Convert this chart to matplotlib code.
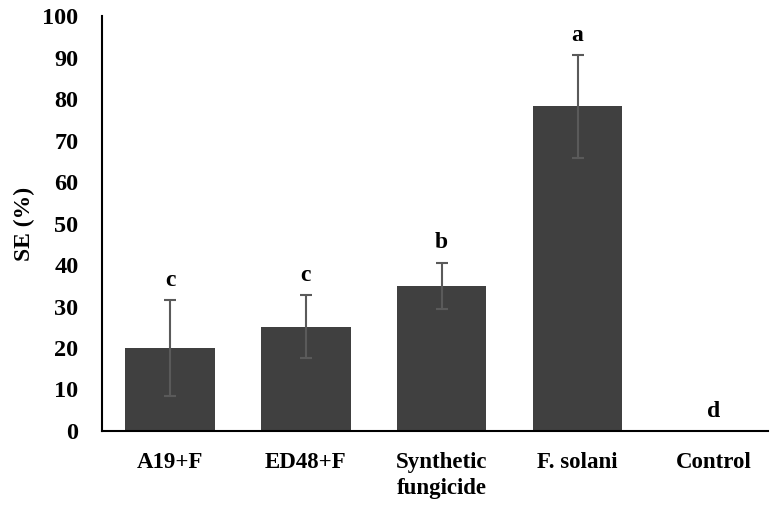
import matplotlib.pyplot as plt
import numpy as np

categories = ["A19+F", "ED48+F", "Synthetic\nfungicide", "F. solani", "Control"]
se_values = [20.0, 25.1, 35.0, 78.3, 0.0]
se_errors = [11.6, 7.6, 5.6, 12.4, 0.0]
letters = ["c", "c", "b", "a", "d"]
yticks = [0, 10, 20, 30, 40, 50, 60, 70, 80, 90, 100]

plt.rcParams['font.family'] = ['Liberation Serif', 'DejaVu Serif']
plt.rcParams['font.weight'] = 'bold'

fig = plt.figure(figsize=(7.7, 5.07), dpi=100)
ax = fig.add_axes([0.1325, 0.15, 0.8645, 0.818])

x = np.arange(len(categories))
ax.bar(x, se_values, width=0.66, color='#404040', zorder=2)
for xi, v, e in zip(x, se_values, se_errors):
    if e > 0:
        ax.errorbar(xi, v, yerr=e, fmt='none', ecolor='#5a5a5a',
                    elinewidth=1.5, capsize=4, capthick=1.5, zorder=3)

for xi, v, e, lab in zip(x, se_values, se_errors, letters):
    ax.text(xi, v + e + 2.2, lab, ha='center', va='bottom',
            fontsize=17, fontweight='bold')

ax.set_xlim(-0.5, 4.4)
ax.set_ylim(0, 100)
ax.set_yticks(yticks)
ax.set_xticks(x)
ax.set_xticklabels(categories, fontsize=16.5, fontweight='bold', linespacing=1.3)
ax.tick_params(axis='y', length=0, pad=17, labelsize=17.5)
ax.tick_params(axis='x', length=0, pad=15)
for lbl in ax.get_yticklabels():
    lbl.set_fontweight('bold')

ax.set_ylabel("SE (%)", fontsize=17, fontweight='bold', labelpad=5)

ax.spines['top'].set_visible(False)
ax.spines['right'].set_visible(False)
ax.spines['left'].set_linewidth(1.5)
ax.spines['bottom'].set_linewidth(1.5)

fig.savefig("out.png", dpi=100)
